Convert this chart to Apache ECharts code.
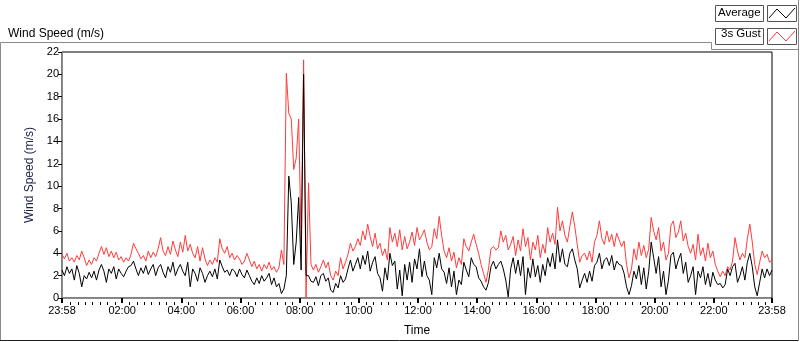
<!DOCTYPE html>
<html>
<head>
<meta charset="utf-8">
<script src="https://cdn.jsdelivr.net/npm/echarts@6/dist/echarts.min.js"></script>
<style>
  html, body { margin: 0; padding: 0; background: #fff; }
  #chart { width: 800px; height: 342px; }
</style>
</head>
<body>
<div id="chart"></div>
<script>
// one sample every 5 minutes, starting 23:58 the day before
const stepMinutes = 5;

const gustValues = [
  3.9, 3.5, 4.0, 3.3, 3.6, 3.2, 3.8, 3.4, 4.2, 3.6,
  2.9, 3.4, 3.0, 3.6, 3.3, 4.0, 4.6, 3.9, 4.5, 3.7,
  4.2, 3.6, 4.1, 3.4, 3.7, 3.2, 3.6, 3.3, 3.9, 4.9,
  4.4, 4.0, 3.5, 3.8, 3.3, 4.2, 3.6, 4.1, 3.7, 4.4,
  5.4, 4.2, 3.8, 4.6, 3.9, 5.1, 4.3, 3.7, 5.0, 4.1,
  5.6, 4.2, 4.8, 4.0, 3.6, 4.6, 3.3, 4.5, 3.5, 2.9,
  3.4, 3.0, 3.6, 3.2, 5.3, 4.4, 4.0, 4.6, 3.6, 4.0,
  3.4, 3.8, 3.5, 3.0, 3.3, 4.0, 3.4, 2.8, 3.3, 2.6,
  3.0, 2.4, 3.0, 2.6, 3.2, 2.5, 2.8, 2.3, 2.7, 4.3,
  3.0, 20.1, 16.5, 16.0, 11.5, 12.5, 16.0, 5.0, 21.3, 0.0,
  10.3, 3.0, 2.5, 3.0, 2.3, 2.8, 3.4, 2.7, 3.2, 2.0,
  1.6, 2.4, 2.0, 3.6, 2.6, 3.2, 3.9, 4.9, 4.2, 4.6,
  5.3, 4.7, 6.0, 5.2, 6.6, 5.5, 4.6, 5.8, 4.4, 4.9,
  3.8, 4.4, 3.4, 6.3, 5.0, 5.8, 4.6, 6.1, 4.3, 5.5,
  4.4, 5.0, 5.9, 4.7, 6.3, 5.2, 5.6, 6.1, 5.0, 4.3,
  4.6, 6.2, 5.3, 7.3, 5.6, 4.2, 3.6, 4.5, 3.3, 4.1,
  2.7, 3.6, 3.0, 5.3, 4.6, 4.2, 5.0, 5.7, 4.8, 4.0,
  3.0, 2.2, 1.4, 2.6, 4.4, 4.6, 4.3, 4.5, 6.0, 5.0,
  5.6, 4.3, 4.8, 5.5, 3.8, 5.2, 4.2, 6.2, 4.6, 5.4,
  3.4, 5.0, 4.3, 5.6, 3.6, 4.8, 4.0, 6.3, 5.0, 5.8,
  4.8, 8.1, 6.0, 6.9, 5.6, 5.0, 6.4, 7.7, 6.4, 4.8,
  3.2, 3.8, 4.0, 3.4, 4.2, 3.2, 5.0, 5.6, 6.9, 5.3,
  4.8, 6.0, 5.0, 5.7, 4.6, 5.8, 5.2, 4.6, 5.1, 3.0,
  1.8, 2.6, 4.4, 3.4, 5.0, 3.8, 4.7, 3.6, 4.4, 7.2,
  6.0, 5.2, 6.3, 4.2, 5.0, 3.4, 4.0, 6.5, 6.9, 5.4,
  5.9, 6.9, 5.1, 5.8, 4.6, 4.0, 4.8, 3.4, 5.7, 3.8,
  4.5, 3.3, 4.9, 3.6, 4.2, 3.0, 2.4, 1.9, 2.4, 2.0,
  2.8, 2.5, 3.3, 5.4, 4.2, 3.4, 4.0, 3.6, 5.3, 6.6,
  5.0, 3.0, 2.1, 3.2, 4.2, 3.6, 3.9, 3.2, 3.4
];

const averageValues = [
  2.5, 2.0, 2.8, 2.2, 2.6, 1.6, 2.9, 2.2, 1.0, 2.0,
  1.7, 2.3, 1.8, 2.4, 1.6, 2.5, 3.0, 2.4, 1.4, 2.6,
  2.2, 2.8, 1.7, 2.6, 2.2, 1.9, 2.4, 2.8, 2.9, 3.3,
  2.6, 2.0, 2.7, 2.2, 2.9, 2.1, 2.6, 3.0, 2.0, 2.7,
  3.0, 2.3, 1.8, 2.8, 2.3, 3.2, 2.0, 2.6, 3.0, 2.4,
  2.0, 3.2, 1.0, 2.6, 2.2, 1.5, 2.7, 2.2, 1.4, 2.0,
  2.4, 1.9, 2.6, 1.7, 3.4, 2.8, 2.3, 2.5, 2.0, 2.6,
  2.4, 1.9, 2.6, 2.1, 1.8, 2.5, 2.0, 1.5, 1.2, 1.8,
  1.3, 2.0, 1.5, 1.8, 2.2, 1.2, 1.8, 1.0, 1.3, 0.4,
  0.8, 2.0, 10.9, 8.5, 3.0, 5.0, 9.0, 2.5, 20.0, 2.0,
  2.0, 1.5, 1.4, 1.9, 1.1, 2.0, 2.2, 1.5, 1.8, 0.7,
  0.5, 1.3, 0.9, 2.0, 1.4, 1.7, 2.6, 3.4, 2.4, 3.0,
  3.6, 2.6, 3.8, 3.0, 4.2, 2.4, 3.2, 3.7, 2.2, 1.8,
  0.6, 2.7, 1.6, 4.0, 2.9, 3.3, 0.8, 2.5, 0.2, 3.0,
  1.6, 3.2, 1.4, 3.5, 2.6, 4.4, 1.9, 3.3, 2.0, 1.6,
  0.3, 3.6, 2.7, 4.0, 2.6, 2.3, 1.3, 2.7, 1.0, 2.4,
  0.3, 1.6, 1.2, 3.2, 2.5, 1.9, 3.6, 3.0, 2.8, 1.8,
  1.5, 1.0, 0.7, 1.4, 2.8, 3.3, 2.6, 3.0, 3.3, 2.6,
  1.6, 0.1, 2.6, 3.6, 2.2, 3.4, 2.0, 3.7, 0.3, 2.7,
  1.8, 3.5, 1.9, 2.9, 1.4, 3.0, 2.0, 3.6, 2.8, 4.0,
  2.6, 5.2, 3.2, 4.4, 3.0, 2.8, 4.0, 4.4, 3.4, 2.6,
  0.9, 1.6, 2.2, 1.4, 2.4, 1.5, 2.9, 3.2, 4.0, 2.6,
  3.4, 3.6, 2.9, 3.8, 2.5, 3.3, 3.0, 2.9, 2.2, 1.0,
  0.3, 1.1, 2.4, 1.7, 2.9, 1.2, 2.7, 0.8, 2.4, 5.0,
  3.6, 2.2, 3.7, 1.0, 2.4, 0.3, 1.6, 3.8, 4.1, 2.6,
  3.4, 4.0, 2.2, 3.2, 1.4, 2.0, 2.8, 0.3, 2.4, 1.8,
  2.8, 1.2, 2.2, 1.0, 2.3, 1.6, 1.2, 1.3, 0.9, 1.2,
  2.6, 2.0, 2.8, 3.1, 1.4, 2.0, 2.8, 1.6, 3.2, 4.0,
  2.8, 1.0, 0.2, 1.4, 2.6, 1.8, 2.6, 2.0, 2.5
];

// minutes after 23:58
const majorTickMinutes = [0, 122, 242, 362, 482, 602, 722, 842, 962, 1082, 1202, 1322, 1440];
const majorTickLabels = ['23:58', '02:00', '04:00', '06:00', '08:00', '10:00', '12:00',
  '14:00', '16:00', '18:00', '20:00', '22:00', '23:58'];

// minor ticks every quarter hour
const minorTickMinutes = [];
for (let m = 17; m < 1440; m += 15) {
  if (majorTickMinutes.indexOf(m) < 0) minorTickMinutes.push(m);
}

const toPairs = (vals) => vals.map((v, i) => [i * stepMinutes, v]);

const font = 'Liberation Sans, Arial, sans-serif';
const frameGray = '#8a8a8a';
const gustRed = '#ff3b3b';

const chart = echarts.init(document.getElementById('chart'), null, { renderer: 'canvas' });

// little zigzag swatch drawn inside a legend icon box
const zigzag = (top, color) => ({
  type: 'polyline',
  shape: { points: [[769, top + 13], [777, top + 4], [786, top + 13], [795, top + 3]] },
  style: { stroke: color, fill: null, lineWidth: 1 },
  silent: true,
  z: 100
});
const box = (x, y, w) => ({
  type: 'rect',
  shape: { x: x + 0.5, y: y + 0.5, width: w, height: 16 },
  style: { stroke: '#555', fill: '#fff', lineWidth: 1 },
  silent: true,
  z: 1
});

const option = {
  animation: false,
  backgroundColor: '#fff',
  textStyle: { fontFamily: font },
  title: {
    text: 'Wind Speed (m/s)',
    left: 3,
    top: 23,
    textStyle: { fontSize: 12, fontWeight: 'normal', color: '#000', fontFamily: font }
  },
  legend: {
    orient: 'vertical',
    left: 718,
    top: 7,
    padding: 0,
    align: 'right',
    itemWidth: 26,
    itemHeight: 10,
    itemGap: 9,
    data: ['Average', '3s Gust'],
    icon: 'rect',
    itemStyle: { opacity: 0 },
    textStyle: { fontSize: 11.5, color: '#000', fontFamily: font }
  },
  grid: {
    left: 62,
    right: 28,
    top: 52,
    bottom: 40,
    show: true,
    borderColor: '#000',
    borderWidth: 1,
    backgroundColor: '#fff'
  },
  xAxis: [
    {
      type: 'value',
      min: 0,
      max: 1440,
      position: 'bottom',
      name: 'Time',
      nameLocation: 'middle',
      nameGap: 27,
      nameTextStyle: { fontSize: 12, color: '#000', fontFamily: font },
      axisLine: { show: true, lineStyle: { color: frameGray, width: 1 } },
      axisTick: {
        show: true,
        customValues: majorTickMinutes,
        length: 5,
        lineStyle: { color: '#000', width: 2 }
      },
      axisLabel: {
        show: true,
        customValues: majorTickMinutes,
        margin: 7,
        fontSize: 11,
        color: '#000',
        fontFamily: font,
        formatter: (val) => {
          const k = majorTickMinutes.indexOf(Math.round(val));
          return k >= 0 ? majorTickLabels[k] : '';
        }
      },
      splitLine: { show: false }
    },
    {
      // minor ticks only, pushed down onto the bottom edge
      type: 'value',
      min: 0,
      max: 1440,
      position: 'top',
      offset: -250,
      axisLine: { show: false },
      axisTick: {
        show: true,
        inside: true,
        customValues: minorTickMinutes,
        length: 3,
        lineStyle: { color: '#000', width: 1 }
      },
      axisLabel: { show: false },
      splitLine: { show: false }
    }
  ],
  yAxis: [
    {
      type: 'value',
      min: 0,
      max: 22,
      interval: 2,
      position: 'left',
      name: 'Wind Speed (m/s)',
      nameLocation: 'middle',
      nameGap: 25,
      nameTextStyle: { fontSize: 12, color: '#1b2147', fontFamily: font },
      axisLine: { show: true, lineStyle: { color: '#000', width: 1 } },
      axisTick: { show: true, length: 4, lineStyle: { color: '#000' } },
      axisLabel: { fontSize: 11, color: '#000', margin: 3, fontFamily: font },
      splitLine: { show: false }
    },
    {
      type: 'value',
      min: 0,
      max: 22,
      position: 'right',
      axisLine: { show: true, lineStyle: { color: frameGray, width: 1 } },
      axisTick: { show: false },
      axisLabel: { show: false },
      splitLine: { show: false }
    }
  ],
  series: [
    {
      name: 'Average',
      type: 'line',
      xAxisIndex: 0,
      yAxisIndex: 0,
      data: toPairs(averageValues),
      showSymbol: false,
      symbol: 'none',
      color: '#000',
      lineStyle: { color: '#000', width: 1 },
      z: 3
    },
    {
      name: '3s Gust',
      type: 'line',
      xAxisIndex: 0,
      yAxisIndex: 0,
      data: toPairs(gustValues),
      showSymbol: false,
      symbol: 'none',
      color: gustRed,
      lineStyle: { color: gustRed, width: 1 },
      z: 2
    }
  ],
  graphic: [
    // outer panel frame
    { type: 'polyline', shape: { points: [[0.5, 341], [0.5, 42.5], [711.5, 42.5], [711.5, 49.5], [798.5, 49.5]] },
      style: { stroke: frameGray, fill: null, lineWidth: 1 }, silent: true },
    { type: 'line', shape: { x1: 0, y1: 340.5, x2: 799, y2: 340.5 }, style: { stroke: '#222', lineWidth: 1 }, silent: true },
    { type: 'line', shape: { x1: 798.5, y1: 0, x2: 798.5, y2: 341 }, style: { stroke: frameGray, lineWidth: 1 }, silent: true },
    // legend name boxes and swatch boxes
    box(715, 5, 48),
    box(715, 28, 48),
    Object.assign(box(767, 5, 29), { z: 99 }),
    Object.assign(box(767, 28, 29), { z: 99 }),
    zigzag(5, '#000'),
    zigzag(28, gustRed)
  ]
};

chart.setOption(option);
</script>
</body>
</html>
